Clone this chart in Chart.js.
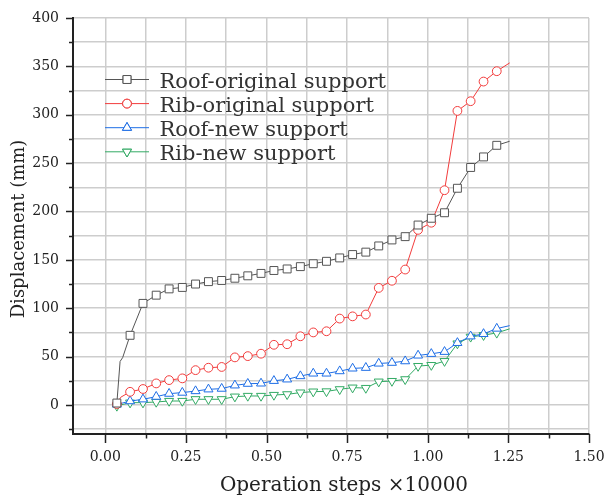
<!DOCTYPE html>
<html><head><meta charset="utf-8">
<script src="https://cdn.jsdelivr.net/npm/chart.js@4.4.1/dist/chart.umd.min.js"></script>
<style>html,body{margin:0;padding:0;background:#fff;}#wrap{width:606px;height:495px;position:relative;}</style>
</head><body><div id="wrap"><canvas id="c"></canvas></div>
<script>
// x positions of the marked samples (operation steps, x10000)
const steps = [0.036,0.077,0.117,0.158,0.198,0.239,0.280,0.320,0.361,0.402,0.442,0.483,0.523,0.564,0.605,0.645,0.686,0.727,0.767,0.808,0.848,0.889,0.930,0.970,1.011,1.052,1.092,1.133,1.173,1.214];
const roofOriginal = [2,72,105,113.5,120,121.5,125,127.5,128.7,131,133.5,136,139,140.6,143,146,148.5,152,155.5,158,164.4,170.6,174,186,193,198.7,224,245.5,256.4,268.4];
const ribOriginal  = [1,13.6,16.5,22.3,25.7,27.5,36,38.5,39.3,49.2,50.5,53,62.2,62.8,71,75,76.2,89.3,91.6,93.5,121,128.4,140,181,188.4,222,304,314,334.3,345];
const roofNew      = [0.5,4,5.9,8.6,11.7,12.8,14.4,16.2,16.9,20.3,22,22.3,25,26.5,29.9,32.6,32.6,35,37.8,38.5,42.9,43.7,45.3,51.2,52.9,55,64.2,71,73.5,79];
const ribNew       = [-1,2.4,2.4,3.1,4.1,4.1,5.9,5.9,5.9,8.6,9.3,9.3,10.3,11,12.8,13.8,14,16.2,17.9,17.5,24.1,24.7,26.5,40.2,41.2,45.3,63.5,70.4,72.1,74.5];
// unmarked intermediate samples on each curve [x, y]
const roofOriginalExtra = [[0.046,45],[0.054,49],[1.254,272.6]];
const ribOriginalExtra  = [[0.048,8],[1.254,353.6]];
const roofNewExtra      = [[1.254,82]];
const ribNewExtra       = [[1.254,78.7]];
const seriesNames = ['Roof-original support','Rib-original support','Roof-new support','Rib-new support'];
const xTickLabels = ['0.00','0.25','0.50','0.75','1.00','1.25','1.50'];
const yTickLabels = ['0','50','100','150','200','250','300','350','400'];
const xTitle = 'Operation steps \u00D710000';
const yTitle = 'Displacement (mm)';

const styles = [
  {color:'rgb(85,85,85)',   shape:'rect',     r:5.6},
  {color:'rgb(242,60,60)',  shape:'circle',   r:4.4},
  {color:'rgb(30,110,230)', shape:'triangle', r:5.2, rot:0},
  {color:'rgb(50,170,100)', shape:'triangle', r:5.2, rot:180}
];
function build(vals, extra){
  const pts = steps.map((x,i)=>({x:x, y:vals[i], m:true}));
  extra.forEach(p=>pts.push({x:p[0], y:p[1], m:false}));
  pts.sort((a,b)=>a.x-b.x);
  return pts;
}
const allData = [build(roofOriginal,roofOriginalExtra),build(ribOriginal,ribOriginalExtra),build(roofNew,roofNewExtra),build(ribNew,ribNewExtra)];
const datasets = allData.map((d,i)=>({
  label: seriesNames[i], data: d,
  borderColor: styles[i].color, borderWidth: 1, backgroundColor:'#fff',
  pointStyle: styles[i].shape, pointRotation: styles[i].rot||0,
  pointRadius: c => (c.raw && c.raw.m) ? styles[i].r : 0,
  pointHoverRadius: c => (c.raw && c.raw.m) ? styles[i].r : 0,
  pointBorderWidth: 1, pointBorderColor: styles[i].color, pointBackgroundColor:'#fff',
  tension: 0, fill:false
}));

const FONT = '"DejaVu Serif", "Liberation Serif", serif';
function near(a,b){return Math.abs(a-b)<1e-6;}
function gridValues(from, to, step){ const out=[]; for(let k=0; from+k*step<=to+1e-9; k++) out.push(+(from+k*step).toFixed(6)); return out; }

const decor = {
  id:'decor',
  afterDraw(chart){
    const ctx = chart.ctx, ca = chart.chartArea;
    const xs = chart.scales.x, ys = chart.scales.y;
    ctx.save();
    ctx.strokeStyle = '#222'; ctx.lineWidth = 1.5;
    xs.ticks.forEach(t=>{
      const major = near(t.value/0.25, Math.round(t.value/0.25));
      const px = Math.round(xs.getPixelForValue(t.value))+0.5;
      ctx.beginPath(); ctx.moveTo(px, ca.bottom); ctx.lineTo(px, ca.bottom + (major?9:4.5)); ctx.stroke();
    });
    ys.ticks.forEach(t=>{
      const major = near(t.value/50, Math.round(t.value/50));
      const py = Math.round(ys.getPixelForValue(t.value))+0.5;
      ctx.beginPath(); ctx.moveTo(ca.left, py); ctx.lineTo(ca.left - (major?7:4), py); ctx.stroke();
    });
    // titles
    ctx.fillStyle = '#222';
    ctx.font = '20px ' + FONT;
    ctx.textAlign = 'center'; ctx.textBaseline = 'alphabetic';
    ctx.fillText(xTitle, ca.left + 271, 491);
    ctx.save();
    ctx.translate(23.5, 229); ctx.rotate(-Math.PI/2);
    ctx.font = '18px ' + FONT;
    ctx.fillText(yTitle, 0, 0);
    ctx.restore();
    // legend
    ctx.font = '21px ' + FONT;
    ctx.textAlign = 'left';
    seriesNames.forEach((name,i)=>{
      const y = 79.5 + i*24.1;
      const st = styles[i];
      ctx.strokeStyle = st.color; ctx.lineWidth = 1;
      ctx.beginPath(); ctx.moveTo(105, y); ctx.lineTo(149, y); ctx.stroke();
      Chart.helpers.drawPoint(ctx, {pointStyle: st.shape, rotation: st.rot||0, radius: st.r, borderWidth: 1}, 127, y);
      ctx.fillStyle = '#fff'; ctx.fill(); ctx.stroke();
      ctx.fillStyle = '#333';
      ctx.fillText(name, 159.5, y + 8);
    });
    ctx.restore();
  }
};

new Chart(document.getElementById('c'), {
  type:'line',
  data:{datasets},
  options:{
    responsive:true, maintainAspectRatio:false, animation:false,
    layout:{padding:{top:18, right:17, left:0, bottom:0}},
    plugins:{legend:{display:false}, tooltip:{enabled:false}},
    elements:{line:{tension:0}},
    scales:{
      x:{type:'linear', min:-0.1, max:1.5,
        afterBuildTicks:s=>{ s.ticks = gridValues(0, 1.5, 0.125).map(v=>({value:v})); },
        ticks:{autoSkip:false, maxRotation:0, padding:15, color:'#222', font:{family:FONT, size:14},
          callback:v=>{const i=xTickLabels.findIndex(l=>near(parseFloat(l),v)); return i>=0?xTickLabels[i]:'';}},
        grid:{color:'#cdcdcd', lineWidth:1.5, drawTicks:false},
        border:{color:'#222', width:2},
        afterFit:s=>{s.height=61; s.paddingLeft=0; s.paddingRight=0;}
      },
      y:{type:'linear', min:-30, max:400,
        afterBuildTicks:s=>{ s.ticks = gridValues(-25, 400, 25).map(v=>({value:v})); },
        ticks:{autoSkip:false, padding:14, color:'#222', font:{family:FONT, size:14},
          callback:v=>{const i=yTickLabels.findIndex(l=>near(parseFloat(l),v)); return i>=0?yTickLabels[i]:'';}},
        grid:{color:'#cdcdcd', lineWidth:1.5, drawTicks:false},
        border:{color:'#222', width:2},
        afterFit:s=>{s.width=73; s.paddingTop=0; s.paddingBottom=0;}
      }
    }
  },
  plugins:[decor]
});
</script></body></html>
